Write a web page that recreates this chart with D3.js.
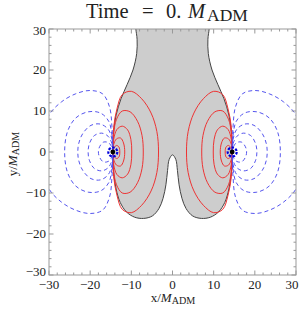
<!DOCTYPE html>
<html>
<head>
<meta charset="utf-8">
<script src="https://cdn.jsdelivr.net/npm/d3@7"></script>
<style>
  body { margin: 0; background: #fff; }
  text { font-family: "Liberation Serif", "DejaVu Serif", serif; fill: #222; }
</style>
</head>
<body>
<div id="chart"></div>
<script>
// chart values (units of M_ADM)
var holes = [-14.5, 14.5];
var tickValues = [-30, -20, -10, 0, 10, 20, 30];

// boundary of the shaded region
var shadeEdge = [[-8.9,31],[-8.9,30],[-8.6,27.5],[-8.7,24],[-9.6,20],[-11,16.5],[-12.5,13],[-13.7,9],[-14.3,5],[-14.5,0],
  [-14.3,-5],[-13.7,-9],[-12.7,-12.3],[-11.2,-14.6],[-9.2,-15.9],[-7,-16.2],[-4.9,-15.6],[-3.3,-13.8],[-2.3,-11.3],[-1.6,-8],
  [-1.2,-4.5],[-0.8,-1.8],[0,-0.7],[0.8,-1.8],[1.2,-4.5],[1.6,-8],[2.3,-11.3],[3.3,-13.8],[4.9,-15.6],[7,-16.2],[9.2,-15.9],
  [11.2,-14.6],[12.7,-12.3],[13.7,-9],[14.3,-5],[14.5,0],[14.3,5],[13.7,9],[12.5,13],[11,16.5],[9.6,20],[8.7,24],[8.6,27.5],
  [8.9,30],[8.9,31]];

// positive (red) contours around the left hole
var redLoops = [
  [[-14.5,0],[-14.3,6],[-13.5,10.5],[-12.2,14],[-10,14.8],[-7.5,13],[-5.2,9.5],[-3.8,5],[-3.4,0],[-3.8,-5],[-5.2,-9.5],[-7.5,-13],[-10,-14.8],[-12.2,-14],[-13.5,-10.5],[-14.3,-6]],
  [[-14.5,0],[-14.3,4.5],[-13.6,8],[-12.2,10],[-10.3,9.8],[-8.5,7.5],[-7.4,4],[-7.1,0],[-7.4,-4],[-8.5,-7.5],[-10.3,-9.8],[-12.2,-10],[-13.6,-8],[-14.3,-4.5]],
  [[-14.5,0],[-14.3,3],[-13.5,5.5],[-12.2,6.3],[-10.9,5.4],[-10.1,3],[-9.9,0],[-10.1,-3],[-10.9,-5.4],[-12.2,-6.3],[-13.5,-5.5],[-14.3,-3]],
  [[-14.5,0],[-14.3,1.8],[-13.6,3.2],[-12.6,3.4],[-11.9,2.2],[-11.6,0],[-11.9,-2.2],[-12.6,-3.4],[-13.6,-3.2],[-14.3,-1.8]],
  [[-14.5,0],[-14.2,1],[-13.6,1.6],[-13,1.2],[-12.8,0],[-13,-1.2],[-13.6,-1.6],[-14.2,-1]]
];

// negative (blue, dashed) contours around the left hole
var blueLoops = [
  [[-14.5,0],[-14.7,6],[-15.3,11],[-17,14.2],[-20,15],[-23.5,14.2],[-27,12.2],[-30,9],[-31.5,4],[-32,0],[-31.5,-4],[-30,-9],[-27,-12.2],[-23.5,-14.2],[-20,-15],[-17,-14.2],[-15.3,-11],[-14.7,-6]],
  [[-14.5,0],[-14.7,4],[-15.5,7.5],[-17.5,9.5],[-20.5,9.8],[-23.5,8.3],[-25.5,5],[-26.2,0],[-25.5,-5],[-23.5,-8.3],[-20.5,-9.8],[-17.5,-9.5],[-15.5,-7.5],[-14.7,-4]],
  [[-14.5,0],[-14.7,3],[-15.6,5.5],[-17.5,6.8],[-19.8,6.5],[-21.8,4.5],[-22.8,2],[-23,0],[-22.8,-2],[-21.8,-4.5],[-19.8,-6.5],[-17.5,-6.8],[-15.6,-5.5],[-14.7,-3]],
  [[-14.5,0],[-14.7,2],[-15.6,3.8],[-17.2,4.6],[-19,4],[-20.2,2],[-20.5,0],[-20.2,-2],[-19,-4],[-17.2,-4.6],[-15.6,-3.8],[-14.7,-2]],
  [[-14.5,0],[-14.8,1.3],[-15.6,2.3],[-16.8,2.4],[-17.7,1.3],[-18,0],[-17.7,-1.3],[-16.8,-2.4],[-15.6,-2.3],[-14.8,-1.3]]
];

var width = 300, height = 313;
var plotLeft = 49, plotRight = 296, plotTop = 29, plotBottom = 275;

var svg = d3.select('#chart').append('svg')
    .attr('width', width)
    .attr('height', height);

var x = d3.scaleLinear().domain([-30, 30]).range([plotLeft, plotRight]);
var xMirror = d3.scaleLinear().domain([30, -30]).range([plotLeft, plotRight]);
var y = d3.scaleLinear().domain([-30, 30]).range([plotBottom, plotTop]);

svg.append('clipPath').attr('id', 'plotClip')
  .append('rect')
    .attr('x', plotLeft).attr('y', plotTop)
    .attr('width', plotRight - plotLeft).attr('height', plotBottom - plotTop);

var plot = svg.append('g').attr('clip-path', 'url(#plotClip)');

var edgeLine = d3.line().x(d => x(d[0])).y(d => y(d[1])).curve(d3.curveCatmullRomClosed);

plot.append('path')
    .attr('d', edgeLine(shadeEdge))
    .attr('fill', '#cdcdcd')
    .attr('stroke', '#444')
    .attr('stroke-width', 1);

// contours: left hole through x, right hole through the mirrored scale
[x, xMirror].forEach(function(sx) {
  var loop = d3.line().x(d => sx(d[0])).y(d => y(d[1])).curve(d3.curveCatmullRomClosed);

  plot.append('g').selectAll('path').data(redLoops).enter()
    .append('path')
      .attr('d', loop)
      .attr('fill', 'none')
      .attr('stroke', '#ee3333')
      .attr('stroke-width', 1);

  plot.append('g').selectAll('path').data(blueLoops).enter()
    .append('path')
      .attr('d', loop)
      .attr('fill', 'none')
      .attr('stroke', '#5555ee')
      .attr('stroke-width', 1)
      .attr('stroke-dasharray', '4,3');
});

// punctures
var bh = plot.append('g').selectAll('g').data(holes).enter().append('g');
bh.append('circle')
    .attr('cx', d => x(d)).attr('cy', y(0))
    .attr('r', 4.5)
    .attr('fill', 'none')
    .attr('stroke', '#0000dd')
    .attr('stroke-width', 2.2)
    .attr('stroke-dasharray', '2.5,1.5');
bh.append('circle')
    .attr('cx', d => x(d)).attr('cy', y(0))
    .attr('r', 2.4)
    .attr('fill', '#000');

// frame with ticks on all sides
var frame = svg.append('g');
frame.append('rect')
    .attr('x', plotLeft).attr('y', plotTop)
    .attr('width', plotRight - plotLeft).attr('height', plotBottom - plotTop)
    .attr('fill', 'none')
    .attr('stroke', '#999')
    .attr('stroke-width', 1);

var minor = d3.range(-30, 31, 2);
var tickLen = d => (d % 10 === 0 ? 4.5 : 2.5);

frame.selectAll('.tb').data(minor).enter().append('line')
    .attr('x1', d => x(d)).attr('x2', d => x(d))
    .attr('y1', plotBottom).attr('y2', d => plotBottom - tickLen(d))
    .attr('stroke', '#999');
frame.selectAll('.tt').data(minor).enter().append('line')
    .attr('x1', d => x(d)).attr('x2', d => x(d))
    .attr('y1', plotTop).attr('y2', d => plotTop + tickLen(d))
    .attr('stroke', '#999');
frame.selectAll('.tl').data(minor).enter().append('line')
    .attr('y1', d => y(d)).attr('y2', d => y(d))
    .attr('x1', plotLeft).attr('x2', d => plotLeft + tickLen(d))
    .attr('stroke', '#999');
frame.selectAll('.tr').data(minor).enter().append('line')
    .attr('y1', d => y(d)).attr('y2', d => y(d))
    .attr('x1', plotRight).attr('x2', d => plotRight - tickLen(d))
    .attr('stroke', '#999');

var fmt = d => (d < 0 ? '\u2212' + Math.abs(d) : String(d));

// edge labels are nudged inward, as in the original
frame.selectAll('.xl').data(tickValues).enter().append('text')
    .attr('x', d => x(d) - (d === 30 ? 4 : 0)).attr('y', 289)
    .attr('text-anchor', 'middle')
    .style('font-size', '13px')
    .text(fmt);
frame.selectAll('.yl').data(tickValues).enter().append('text')
    .attr('x', 46).attr('y', d => y(d) + 4.3 + (d === 30 ? 2 : d === -30 ? -3 : 0))
    .attr('text-anchor', 'end')
    .style('font-size', '13px')
    .text(fmt);

// titles
function massLabel(sel, head, size) {
  sel.append('tspan').text(head);
  sel.append('tspan').style('font-style', 'italic').text('M');
  sel.append('tspan').attr('baseline-shift', '-22%').style('font-size', (size * 0.78) + 'px').text('ADM');
}

// plot title, with the wide operator spacing of the original
var title = svg.append('text').attr('y', 18).style('font-size', '20.5px');
title.append('tspan').attr('x', 86).text('Time');
title.append('tspan').attr('x', 142).text('=');
title.append('tspan').attr('x', 166).text('0.');
title.append('tspan').attr('x', 188).style('font-style', 'italic').text('M');
title.append('tspan').attr('x', 207).attr('dy', 3).style('font-size', '17.5px').text('ADM');

var xTitle = svg.append('text')
    .attr('x', 173).attr('y', 302)
    .attr('text-anchor', 'middle')
    .style('font-size', '13px');
massLabel(xTitle, 'x/', 13);

var yTitle = svg.append('text')
    .attr('transform', 'translate(17,154)rotate(-90)')
    .attr('text-anchor', 'middle')
    .style('font-size', '13px');
massLabel(yTitle, 'y/', 13);
</script>
</body>
</html>
